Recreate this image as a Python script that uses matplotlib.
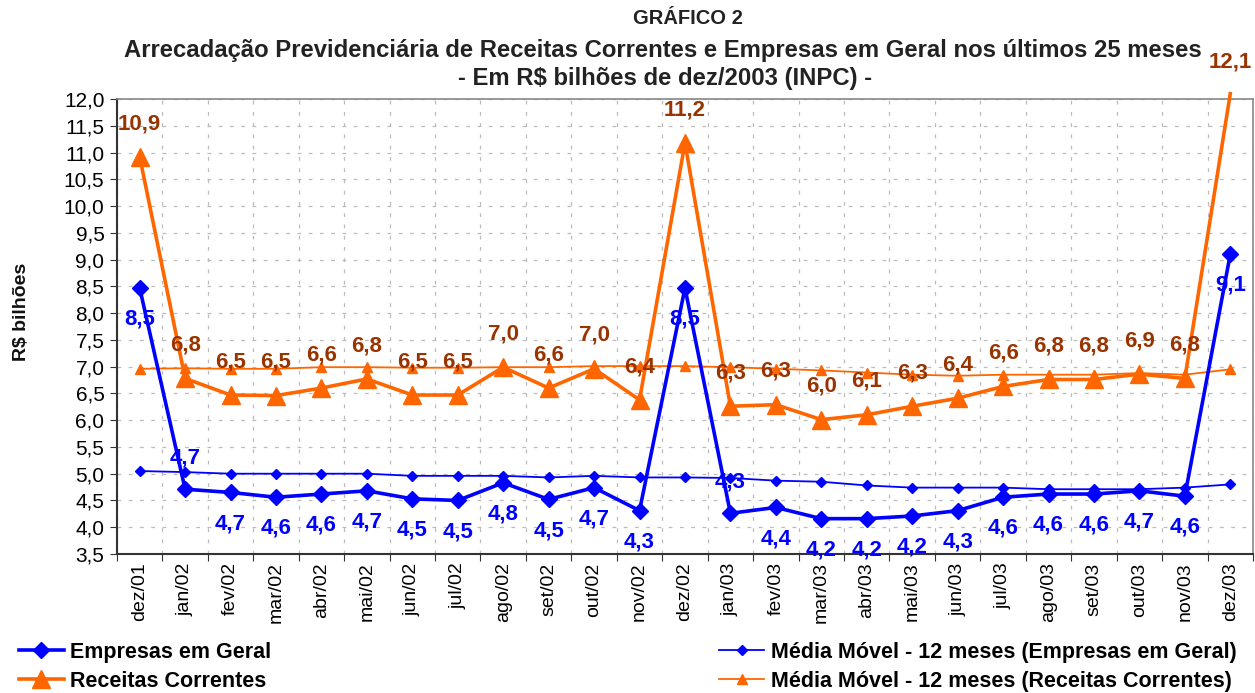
import matplotlib
matplotlib.use("Agg")
import matplotlib.pyplot as plt
from matplotlib.lines import Line2D
import numpy as np

plt.rcParams['font.family'] = ['Liberation Sans', 'DejaVu Sans']

months = ["dez/01", "jan/02", "fev/02", "mar/02", "abr/02", "mai/02", "jun/02", "jul/02",
          "ago/02", "set/02", "out/02", "nov/02", "dez/02", "jan/03", "fev/03", "mar/03",
          "abr/03", "mai/03", "jun/03", "jul/03", "ago/03", "set/03", "out/03", "nov/03", "dez/03"]

empresas = [8.47, 4.71, 4.65, 4.56, 4.62, 4.68, 4.53, 4.50, 4.83, 4.52, 4.74, 4.31, 8.47,
            4.26, 4.37, 4.16, 4.16, 4.21, 4.31, 4.56, 4.62, 4.62, 4.68, 4.58, 9.10]
mm_empresas = [5.05, 5.03, 5.00, 5.00, 5.00, 5.00, 4.96, 4.96, 4.96, 4.93, 4.96, 4.93, 4.93,
               4.92, 4.87, 4.85, 4.78, 4.74, 4.74, 4.74, 4.71, 4.71, 4.71, 4.74, 4.80]
receitas = [10.92, 6.78, 6.47, 6.46, 6.60, 6.77, 6.47, 6.47, 6.99, 6.60, 6.96, 6.38, 11.18,
            6.26, 6.29, 6.01, 6.10, 6.26, 6.41, 6.63, 6.76, 6.76, 6.86, 6.78, 12.10]
mm_receitas = [6.96, 6.97, 6.96, 6.96, 6.99, 6.99, 6.98, 6.98, 6.99, 6.99, 7.01, 7.01, 7.01,
               6.99, 6.96, 6.93, 6.89, 6.85, 6.83, 6.85, 6.85, 6.85, 6.88, 6.85, 6.95]

# label placement for Empresas: +1 above, -1 below
emp_label_side = [-1, 1, -1, -1, -1, -1, -1, -1, -1, -1, -1, -1, -1,
                  1, -1, -1, -1, -1, -1, -1, -1, -1, -1, -1, -1]

BLUE = '#0000FF'
ORANGE = '#FF6600'
BROWN = '#993300'

fig = plt.figure(figsize=(12.55, 6.93), dpi=100)
ax = fig.add_axes([0.0932, 0.2006, 0.9052, 0.6565])

x = np.arange(len(months))

ax.plot(x, mm_empresas, color=BLUE, lw=1.3, marker='D', ms=5, zorder=3)
ax.plot(x, mm_receitas, color=ORANGE, lw=1.3, marker='^', ms=7, zorder=3)
ax.plot(x, empresas, color=BLUE, lw=2.6, marker='D', ms=8, zorder=4)
ax.plot(x, receitas, color=ORANGE, lw=2.6, zorder=4, clip_on=False)
ax.plot(x[:-1], receitas[:-1], color=ORANGE, lw=0, marker='^', ms=13, zorder=4)

fmt = lambda v: f"{v:.1f}".replace('.', ',')
for i, v in enumerate(receitas):
    off = 23 if i == len(receitas) - 1 else 24
    ax.annotate(fmt(v), (i, v), xytext=(0, off), textcoords='offset points',
                ha='center', va='center', color=BROWN, fontsize=16, fontweight='bold',
                annotation_clip=False, zorder=6)
for i, v in enumerate(empresas):
    ax.annotate(fmt(v), (i, v), xytext=(0, 22.5 * emp_label_side[i]), textcoords='offset points',
                ha='center', va='center', color=BLUE, fontsize=16, fontweight='bold',
                annotation_clip=False, zorder=6)

ax.set_xlim(-0.5, len(months) - 0.5)
ax.set_ylim(3.5, 12.0)
yt = np.arange(3.5, 12.01, 0.5)
ax.set_yticks(yt)
ax.set_yticklabels([fmt(v) for v in yt], fontsize=15)
ax.set_xticks(np.arange(-0.5, len(months), 1.0))
ax.set_xticklabels([])
ax.set_xticks(x, minor=True)
ax.set_xticklabels(months, minor=True, rotation=90, fontsize=14)
ax.tick_params(axis='x', which='minor', length=0, pad=6)
ax.tick_params(axis='x', which='major', length=5, direction='out', color='#333333')
ax.tick_params(axis='y', length=5, direction='out', color='#333333', pad=4)

ax.grid(True, which='major', color='#BBBBBB', linestyle=(0, (3, 6)), lw=0.9)
ax.set_axisbelow(True)
for s in ['top', 'right']:
    ax.spines[s].set_color('#888888')
    ax.spines[s].set_linewidth(1.2)
for s in ['left', 'bottom']:
    ax.spines[s].set_color('#333333')
    ax.spines[s].set_linewidth(1.5)

fig.text(22 / 1255, 1 - 312 / 693, 'R$ bilhões', rotation=90, ha='center', va='center',
         fontsize=14, fontweight='bold', color='#111111')

fig.text(688 / 1255, 1 - 18 / 693, 'GRÁFICO 2', ha='center', va='center', fontsize=14.5, fontweight='bold', color='#222222')
fig.text(663 / 1255, 1 - 51 / 693, 'Arrecadação Previdenciária de Receitas Correntes e Empresas em Geral nos últimos 25 meses',
         ha='center', va='center', fontsize=17.2, fontweight='bold', color='#222222')
fig.text(665 / 1255, 1 - 79 / 693, '- Em R$ bilhões de dez/2003 (INPC) -', ha='center', va='center',
         fontsize=17.2, fontweight='bold', color='#222222')

h1 = [Line2D([], [], color=BLUE, lw=2.6, marker='D', ms=8),
      Line2D([], [], color=ORANGE, lw=2.6, marker='^', ms=13)]
h2 = [Line2D([], [], color=BLUE, lw=1.3, marker='D', ms=5),
      Line2D([], [], color=ORANGE, lw=1.3, marker='^', ms=7)]
leg_kw = dict(frameon=False, prop={'weight': 'bold', 'size': 15.5},
              handlelength=2.1, handletextpad=0.3, labelspacing=0.35, borderaxespad=0)
fig.legend(h1, ['Empresas em Geral', 'Receitas Correntes'], loc='upper left',
           bbox_to_anchor=(0.008, 0.086), **leg_kw)
fig.legend(h2, ['Média Móvel - 12 meses (Empresas em Geral)', 'Média Móvel - 12 meses (Receitas Correntes)'],
           loc='upper left', bbox_to_anchor=(0.566, 0.086), **leg_kw)

fig.savefig('out.png', dpi=100)
